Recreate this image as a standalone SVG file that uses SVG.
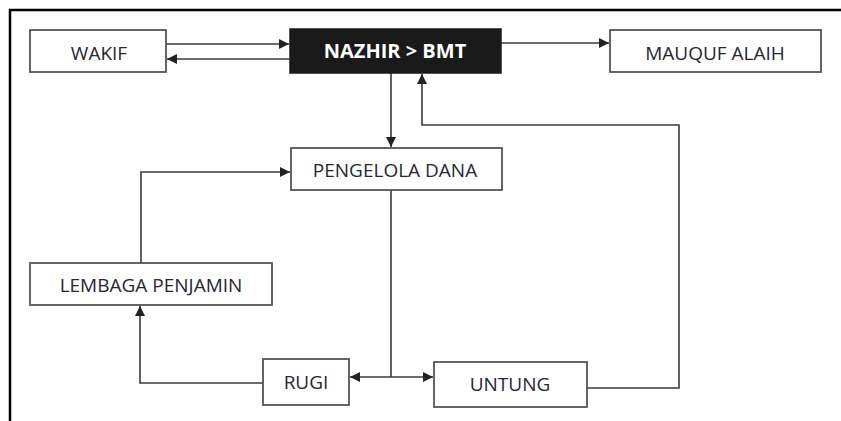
<svg xmlns="http://www.w3.org/2000/svg" width="841" height="421" viewBox="0 0 841 421">
  <defs>
    <style>
      .box { fill: #ffffff; stroke: #555555; stroke-width: 1.8; }
      .dark { fill: #1a1a1a; stroke: #1a1a1a; stroke-width: 1.5; }
      .lbl { font-family: "Open Sans", "Liberation Sans", sans-serif; font-size: 19px; fill: #262633; text-anchor: middle; }
      .lbl-w { font-family: "Open Sans", "Liberation Sans", sans-serif; font-size: 20px; font-weight: bold; fill: #ffffff; text-anchor: middle; }
      .edge { fill: none; stroke: #3a3a3a; stroke-width: 1.6; }
      .frame { fill: none; stroke: #000000; stroke-width: 2.5; }
    </style>
    <marker id="arrow" viewBox="0 0 10 10" refX="10" refY="5" markerWidth="10" markerHeight="10" markerUnits="userSpaceOnUse" orient="auto">
      <path d="M0,0 L10,5 L0,10 z" fill="#222222"/>
    </marker>
  </defs>

  <!-- page frame -->
  <path class="frame" d="M10,421 L10,10 L841,10"/>

  <g id="connectors">
    <!-- WAKIF <-> NAZHIR -->
    <line class="edge" x1="166" y1="44" x2="289" y2="44" marker-end="url(#arrow)"/>
    <line class="edge" x1="290" y1="59" x2="167" y2="59" marker-end="url(#arrow)"/>
    <!-- NAZHIR -> MAUQUF ALAIH -->
    <line class="edge" x1="501" y1="43" x2="609" y2="43" marker-end="url(#arrow)"/>
    <!-- NAZHIR -> PENGELOLA DANA -->
    <line class="edge" x1="391" y1="73" x2="391" y2="147" marker-end="url(#arrow)"/>
    <!-- UNTUNG back to NAZHIR -->
    <polyline class="edge" points="587,388 679,388 679,125 422,125 422,74" marker-end="url(#arrow)"/>
    <!-- PENGELOLA DANA down to split -->
    <line class="edge" x1="391" y1="190" x2="391" y2="377"/>
    <line class="edge" x1="391" y1="377" x2="350" y2="377" marker-end="url(#arrow)"/>
    <line class="edge" x1="391" y1="377" x2="433" y2="377" marker-end="url(#arrow)"/>
    <!-- RUGI -> LEMBAGA PENJAMIN -->
    <polyline class="edge" points="263,383 140,383 140,306" marker-end="url(#arrow)"/>
    <!-- LEMBAGA PENJAMIN -> PENGELOLA DANA -->
    <polyline class="edge" points="141,263 141,172 290,172" marker-end="url(#arrow)"/>
  </g>

  <g id="wakif">
    <rect class="box" x="30" y="30" width="136" height="42"/>
    <text class="lbl" x="99" y="60">WAKIF</text>
  </g>

  <g id="nazhir">
    <rect class="dark" x="290" y="29" width="211" height="44"/>
    <text class="lbl-w" x="395" y="58">NAZHIR &gt; BMT</text>
  </g>

  <g id="mauquf">
    <rect class="box" x="610" y="30" width="211" height="42"/>
    <text class="lbl" x="715" y="60">MAUQUF ALAIH</text>
  </g>

  <g id="pengelola">
    <rect class="box" x="291" y="148" width="211" height="42"/>
    <text class="lbl" x="395" y="177">PENGELOLA DANA</text>
  </g>

  <g id="lembaga">
    <rect class="box" x="30" y="263" width="242" height="42"/>
    <text class="lbl" x="151" y="292">LEMBAGA PENJAMIN</text>
  </g>

  <g id="rugi">
    <rect class="box" x="263" y="359" width="86" height="46"/>
    <text class="lbl" x="306" y="389">RUGI</text>
  </g>

  <g id="untung">
    <rect class="box" x="434" y="362" width="153" height="45"/>
    <text class="lbl" x="510" y="391">UNTUNG</text>
  </g>
</svg>
